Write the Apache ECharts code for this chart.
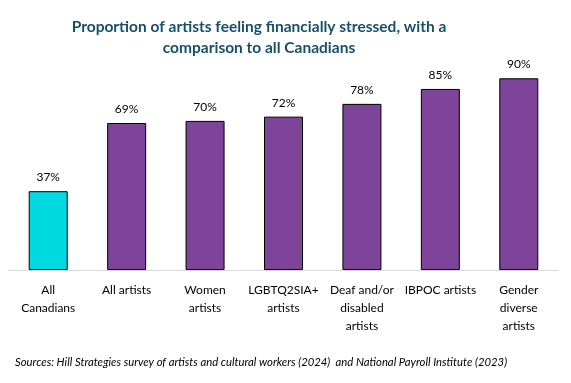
<!DOCTYPE html>
<html><head><meta charset="utf-8">
<script src="https://cdn.jsdelivr.net/npm/echarts@6/dist/echarts.min.js"></script>
<style>html,body{margin:0;padding:0;background:#fff}#c{width:571px;height:383px}</style>
</head><body><div id="c"></div>
<script>
const categories = ["All\nCanadians","All artists","Women\nartists","LGBTQ2SIA+\nartists","Deaf and/or\ndisabled\nartists","IBPOC artists","Gender\ndiverse\nartists"];
const values = [37,69,70,72,78,85,90];
const barColors = ["#00D9E0","#7E4499","#7E4499","#7E4499","#7E4499","#7E4499","#7E4499"];
const titleText = "Proportion of artists feeling financially stressed, with a\ncomparison to all Canadians";
const sourceText = "Sources: Hill Strategies survey of artists and cultural workers (2024)  and National Payroll Institute (2023)";
const font = "Lato, 'Open Sans', sans-serif";
const chart = echarts.init(document.getElementById('c'));
chart.setOption({
  animation:false,
  graphic:[
    {type:'text',x:259,y:16,style:{text:titleText,fontFamily:font,fontSize:15.5,fontWeight:'bold',fill:'#17506B',lineHeight:21,align:'center',verticalAlign:'top'}},
    {type:'text',x:15,y:357,style:{text:sourceText,fontFamily:font,fontSize:11.3,fontStyle:'italic',fill:'#000',align:'left',verticalAlign:'top'}}
  ],
  grid:{left:9,right:13,top:57,bottom:113,containLabel:false},
  xAxis:{type:'category',data:categories,axisLine:{lineStyle:{color:'#D9D9D9',width:1}},axisTick:{show:false},
    axisLabel:{interval:0,fontFamily:font,fontSize:12,color:'#000',lineHeight:18,margin:11}},
  yAxis:{type:'value',min:0,max:100,show:false,splitLine:{show:false}},
  series:[{type:'bar',barWidth:39,data:values.map((v,i)=>({value:v,itemStyle:{color:barColors[i]}})),
    itemStyle:{borderColor:'#000',borderWidth:1},
    label:{show:true,position:'top',distance:8,formatter:'{c}%',fontFamily:font,fontSize:12,color:'#000'}}]
});
</script></body></html>
